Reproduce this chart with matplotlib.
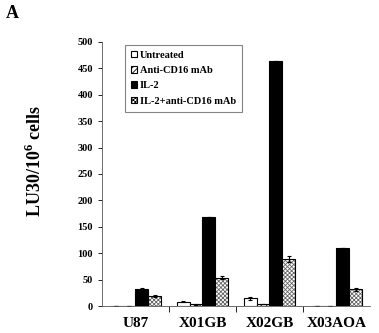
import numpy as np
import matplotlib
matplotlib.use("Agg")
import matplotlib.pyplot as plt

plt.rcParams['font.family'] = ['Liberation Serif', 'DejaVu Serif']
plt.rcParams['font.weight'] = 'bold'
plt.rcParams['hatch.linewidth'] = 0.6
plt.rcParams['mathtext.fontset'] = 'custom'
plt.rcParams['mathtext.bf'] = 'Liberation Serif:bold'
plt.rcParams['mathtext.rm'] = 'Liberation Serif:bold'

categories = ['U87', 'X01GB', 'X02GB', 'X03AOA']
series_names = ['Untreated', 'Anti-CD16 mAb', 'IL-2', 'IL-2+anti-CD16 mAb']
untreated = [0, 8, 15, 0]
anti_cd16 = [0, 3, 4, 0]
il2 = [33, 169, 463, 110]
il2_anti = [19, 54, 89, 32]
err_untreated = [0, 1, 3, 0]
err_anti = [0, 0.5, 0.5, 0]
err_il2 = [2, 0, 0, 0]
err_il2_anti = [2, 3, 5, 3]

values = [untreated, anti_cd16, il2, il2_anti]
errors = [err_untreated, err_anti, err_il2, err_il2_anti]
faces = ['white', 'white', 'black', 'white']
hatches = [None, '//////', None, 'xxxxxxxx']
hatch_cols = ['black', 'black', 'black', '#666666']

fig = plt.figure(figsize=(3.79, 3.33), dpi=100)
ax = fig.add_axes([0.269, 0.081, 0.707, 0.793])

x = np.arange(len(categories))
w = 0.19
for i in range(4):
    pos = x + (i - 1.5) * w
    # hatch layer, then black outline on top
    ax.bar(pos, values[i], w, color=faces[i], edgecolor=hatch_cols[i], linewidth=0,
           hatch=hatches[i])
    ax.bar(pos, values[i], w, color='none', edgecolor='black', linewidth=0.8,
           yerr=errors[i], error_kw=dict(ecolor='black', elinewidth=0.8, capsize=1.5, capthick=0.8))

# legend proxies
handles = []
for i in range(4):
    h = plt.Rectangle((0, 0), 1, 1, facecolor=faces[i], edgecolor='black', linewidth=0.8,
                      hatch=hatches[i])
    handles.append(h)

ax.set_xlim(-0.5, 3.5)
ax.set_ylim(0, 500)
ax.set_yticks(range(0, 501, 50))
ax.set_xticks(x)
ax.set_xticklabels(categories, fontsize=11, fontweight='bold')
ax.set_xticks([0.5, 1.5, 2.5], minor=True)
ax.tick_params(axis='x', which='major', length=0, pad=8)
ax.tick_params(axis='x', which='minor', length=4, width=0.6, direction='out')
ax.tick_params(axis='y', labelsize=7.5, length=3, width=0.6, direction='out')
for lab in ax.get_yticklabels():
    lab.set_fontweight('bold')
ax.spines['top'].set_visible(False)
ax.spines['right'].set_visible(False)
ax.spines['left'].set_linewidth(0.6)
ax.spines['bottom'].set_linewidth(0.6)
ax.spines['left'].set_color('#555555')
ax.spines['bottom'].set_color('#555555')

ax.set_ylabel('LU30/10$^{6}$ cells', fontsize=13, fontweight='bold')
ax.yaxis.set_label_coords(-0.213, 0.55)

leg = ax.legend(handles, series_names, loc='upper left', bbox_to_anchor=(0.065, 1.01),
                prop={'weight': 'bold', 'size': 7.5}, handlelength=0.6, handleheight=0.6,
                handletextpad=0.25, labelspacing=0.6, borderpad=0.6, fancybox=False,
                frameon=True)
leg.get_frame().set_edgecolor('#666666')
leg.get_frame().set_linewidth(0.8)

fig.text(0.015, 0.96, 'A', fontsize=13, fontweight='bold', ha='left', va='center')

fig.savefig('out.png', dpi=100)
